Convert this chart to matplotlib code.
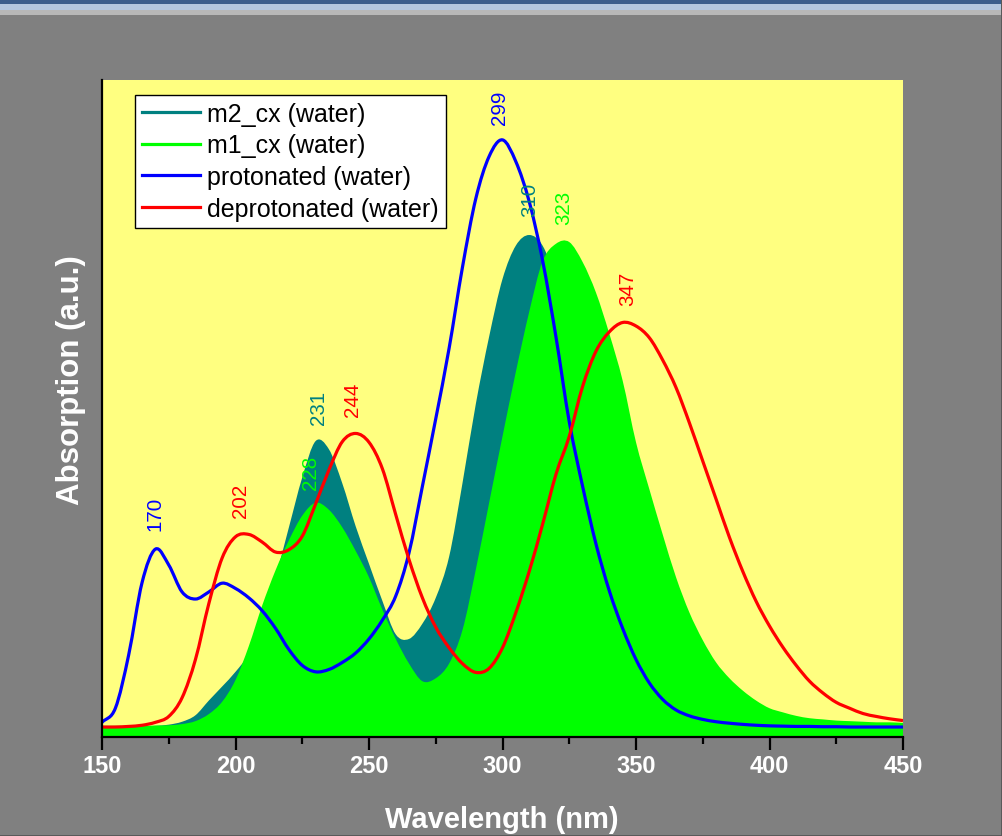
import numpy as np
import matplotlib
matplotlib.use("Agg")
import matplotlib.pyplot as plt
from matplotlib.lines import Line2D
from matplotlib.patches import Rectangle, PathPatch
from matplotlib.path import Path

plt.rcParams["font.family"] = ["Liberation Sans", "DejaVu Sans"]

# Simulated absorption spectra (a.u.), sampled every 5 nm
wavelength = list(range(150, 455, 5))

m2_cx = [0.0, 0.0, 0.05, 0.1, 0.2, 0.4, 0.9, 2.0, 4.5, 6.9,
         9.4, 12.5, 18.0, 25.5, 34.0, 42.5, 48.7, 47.3, 41.5, 34.2,
         27.8, 21.5, 15.8, 15.0, 17.6, 22.0, 29.0, 41.5, 55.0, 66.5,
         76.3, 82.0, 83.8, 82.0, 76.0, 66.0, 55.0, 44.0, 34.0, 25.5,
         18.5, 13.0, 9.0, 6.2, 4.3, 3.0, 2.1, 1.5, 1.1, 0.8,
         0.6, 0.5, 0.4, 0.35, 0.3, 0.3, 0.25, 0.25, 0.2, 0.2, 0.2]

m1_cx = [0.2, 0.2, 0.2, 0.2, 0.25, 0.3, 0.5, 1.0, 2.2, 4.3,
         8.0, 13.8, 20.7, 26.7, 31.8, 36.0, 38.2, 37.0, 34.0, 30.0,
         25.5, 20.0, 15.0, 10.8, 7.8, 8.3, 10.8, 16.5, 26.8, 38.2,
         49.5, 60.5, 70.7, 79.3, 82.3, 82.6, 79.2, 74.0, 67.0, 59.0,
         48.5, 40.5, 32.8, 25.5, 19.5, 14.8, 11.0, 8.3, 6.2, 4.5,
         3.2, 2.5, 1.9, 1.5, 1.3, 1.1, 1.0, 0.9, 0.8, 0.8, 0.7]

protonated = [0.8, 3.2, 12.3, 24.6, 30.3, 27.6, 23.0, 21.8, 23.0, 24.5,
              23.6, 22.0, 19.8, 16.8, 13.2, 10.5, 9.4, 9.8, 11.0, 12.6,
              15.0, 18.2, 22.3, 29.7, 41.0, 52.5, 64.5, 78.3, 90.0, 97.2,
              100.0, 96.3, 89.5, 79.5, 66.5, 52.0, 41.0, 31.2, 23.2, 16.8,
              11.5, 7.5, 4.7, 2.9, 1.9, 1.3, 0.9, 0.65, 0.45, 0.3,
              0.2, 0.15, 0.1, 0.1, 0.05, 0.05, 0.0, 0.0, 0.0, 0.0, 0.0]

deprotonated = [0.0, 0.0, 0.1, 0.3, 0.8, 1.8, 5.0, 11.5, 21.0, 28.8,
                32.4, 32.8, 31.5, 29.8, 30.2, 32.5, 38.0, 43.8, 48.6, 50.0,
                48.5, 44.0, 36.2, 28.5, 22.0, 17.0, 13.5, 10.8, 9.3, 10.0,
                13.5, 19.5, 26.5, 34.5, 43.0, 49.5, 58.0, 64.0, 67.3, 68.9,
                68.3, 66.3, 62.5, 57.8, 51.8, 45.3, 38.8, 32.3, 26.5, 21.4,
                17.2, 13.6, 10.5, 7.8, 5.8, 4.2, 3.2, 2.3, 1.8, 1.4, 1.1]

series_names = ["m2_cx (water)", "m1_cx (water)", "protonated (water)", "deprotonated (water)"]

# Peak maxima annotated above each band
peak_nm = [170, 202, 228, 231, 244, 299, 310, 323, 347]
peak_series = [2, 3, 1, 0, 3, 2, 0, 1, 3]

colors = ["#008080", "#00FF00", "#0000FF", "#FF0000"]
spectra = [m2_cx, m1_cx, protonated, deprotonated]


def spectrum_path(xs, ys, base=None):
    """Smooth cubic (Catmull-Rom) path through the sampled points."""
    xs = np.asarray(xs, float)
    ys = np.asarray(ys, float)
    h = np.diff(xs)
    m = np.gradient(ys, xs)
    verts = [(xs[0], ys[0])]
    codes = [Path.MOVETO]
    for i in range(len(xs) - 1):
        verts += [(xs[i] + h[i] / 3, ys[i] + m[i] * h[i] / 3),
                  (xs[i + 1] - h[i] / 3, ys[i + 1] - m[i + 1] * h[i] / 3),
                  (xs[i + 1], ys[i + 1])]
        codes += [Path.CURVE4] * 3
    if base is not None:
        verts += [(xs[-1], base), (xs[0], base), (xs[0], ys[0])]
        codes += [Path.LINETO, Path.LINETO, Path.CLOSEPOLY]
    return Path(verts, codes)


W, H = 1002, 837
fig = plt.figure(figsize=(W / 100, H / 100), dpi=100, facecolor="#808080")

# title-bar strip across the top edge
fig.patches.append(Rectangle((0, 1 - 5 / H), 1, 5 / H, transform=fig.transFigure,
                             facecolor="#3B5E8C", edgecolor="none"))
fig.patches.append(Rectangle((0, 1 - 11 / H), 1, 6 / H, transform=fig.transFigure,
                             facecolor="#B3C7DF", edgecolor="none"))
fig.patches.append(Rectangle((0, 1 - 16 / H), 1, 5 / H, transform=fig.transFigure,
                             facecolor="#B8B8B8", edgecolor="none"))

ax = fig.add_axes([102 / W, 1 - 738 / H, 801 / W, 657 / H])
ax.set_facecolor("#FFFF80")
ymin, ymax = -1.7, 110.2
ax.set_xlim(150, 450)
ax.set_ylim(ymin, ymax)

for s in (0, 1):
    ax.add_patch(PathPatch(spectrum_path(wavelength, spectra[s], base=ymin),
                           facecolor=colors[s], edgecolor="none"))
for s in (2, 3):
    ax.add_patch(PathPatch(spectrum_path(wavelength, spectra[s]),
                           facecolor="none", edgecolor=colors[s], lw=2.3,
                           capstyle="butt", joinstyle="round"))

x = np.array(wavelength)
for nm, s in zip(peak_nm, peak_series):
    y = np.interp(nm, x, spectra[s])
    ax.annotate(str(nm), (nm, y), xytext=(0, 13.5), textcoords="offset points",
                rotation=90, ha="center", va="bottom", fontsize=14.8,
                color=colors[s])

for side in ["top", "right"]:
    ax.spines[side].set_visible(False)
for side in ["left", "bottom"]:
    ax.spines[side].set_linewidth(1.6)
    ax.spines[side].set_color("black")

ax.set_xticks(range(150, 451, 50))
ax.set_xticks(range(175, 450, 50), minor=True)
ax.tick_params(axis="x", which="major", direction="out", length=9, width=1.6,
               color="black", labelcolor="white", labelsize=17, pad=3.5)
ax.tick_params(axis="x", which="minor", direction="out", length=5, width=1.6,
               color="black")
for lab in ax.get_xticklabels():
    lab.set_fontweight("bold")
ax.tick_params(axis="y", left=False, labelleft=False)

fig.text(502 / W, 1 - 820 / H, "Wavelength (nm)", ha="center", va="center",
         fontsize=21, fontweight="bold", color="white")
fig.text(71 / W, 1 - 380 / H, "Absorption (a.u.)", ha="center", va="center",
         rotation=90, fontsize=22.5, fontweight="bold", color="white")

handles = [Line2D([], [], color=c, lw=2.3) for c in colors]
leg = ax.legend(handles, series_names, loc="upper left",
                bbox_to_anchor=((135 - 102) / 801, (738 - 96) / 657),
                borderaxespad=0, fontsize=18, frameon=True, fancybox=False,
                framealpha=1, facecolor="white", edgecolor="black",
                handlelength=2.3, handletextpad=0.3, labelspacing=0.3,
                borderpad=0.28)
leg.get_frame().set_linewidth(1.0)

# thin darker frame at the right and bottom edges
fig.patches.append(Rectangle((1 - 1 / W, 0), 1 / W, 1, transform=fig.transFigure,
                             facecolor="#5A5A5A", edgecolor="none"))
fig.patches.append(Rectangle((0, 0), 1, 1 / H, transform=fig.transFigure,
                             facecolor="#5A5A5A", edgecolor="none"))

fig.savefig("out.png", dpi=100, facecolor=fig.get_facecolor())
